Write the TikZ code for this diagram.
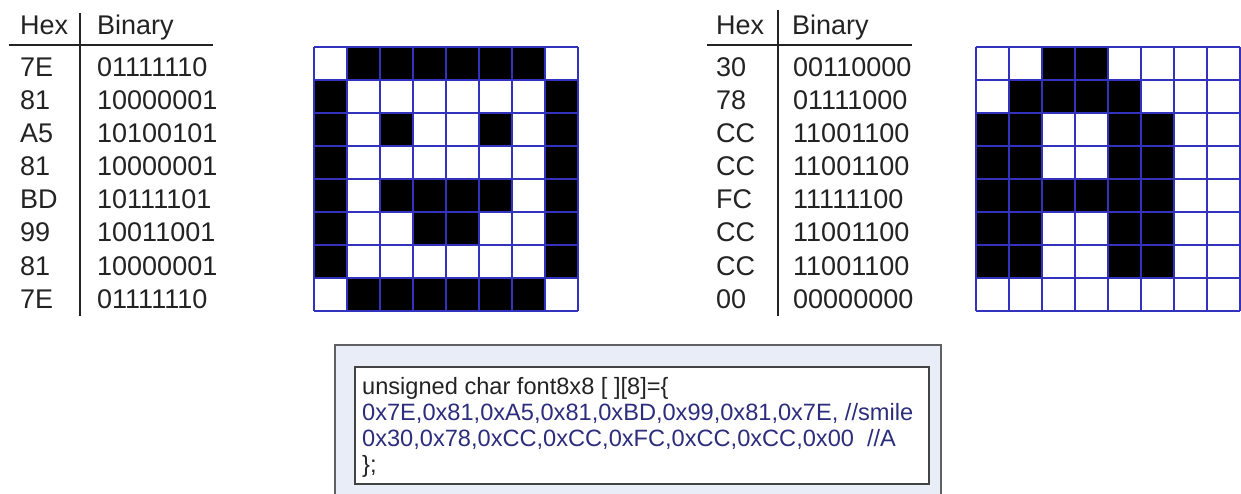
\documentclass[tikz,border=0pt]{standalone}
\usepackage{fontspec}
\setmainfont{Liberation Sans}
\definecolor{gridblue}{RGB}{50,50,190}
\definecolor{codeblue}{RGB}{45,45,125}
\definecolor{boxfill}{RGB}{233,237,247}
\definecolor{boxedge}{RGB}{95,95,100}
\definecolor{textgray}{RGB}{35,35,35}
\tikzset{
  tabtext/.style={anchor=base west, inner sep=0pt, text=textgray, font=\fontsize{27}{33}\selectfont},
  codetext/.style={anchor=base west, inner sep=0pt, font=\fontsize{23.6}{26}\selectfont},
  gridline/.style={draw=gridblue, line width=1.3pt},
  tabline/.style={draw=textgray, line width=2pt}
}

\begin{document}
\begin{tikzpicture}[x=1pt, y=-1pt]
            \useasboundingbox (0,0) rectangle (1241,494);

            % Bang trai: smile
            \node[tabtext] (lhex) at (20,35) {Hex};
            \node[tabtext] (lbin) at (97,35) {Binary};
            \draw[tabline] (9,45) -- (213,45);
            \draw[tabline] (80,13) -- (80,316);
            \foreach \hx/\bn [count=\i from 0] in {7E/01111110, 81/10000001, A5/10100101, 81/10000001, BD/10111101, 99/10011001, 81/10000001, 7E/01111110}{
                \node[tabtext] (lh\i) at (20,77+33*\i) {\hx};
                \node[tabtext] (lb\i) at (97,77+33*\i) {\bn};
            }

            % Luoi 8x8 trai
            \begin{scope}[shift={(314,47)}]
                \foreach \row [count=\r from 0] in {{0,1,1,1,1,1,1,0},{1,0,0,0,0,0,0,1},{1,0,1,0,0,1,0,1},{1,0,0,0,0,0,0,1},{1,0,1,1,1,1,0,1},{1,0,0,1,1,0,0,1},{1,0,0,0,0,0,0,1},{0,1,1,1,1,1,1,0}}{
                    \foreach \b [count=\c from 0] in \row {
                        \ifnum\b=1 \fill (33*\c,33*\r) rectangle ++(33,33); \fi
                    }
                }
                \foreach \k in {0,...,8}{
                    \draw[gridline] (33*\k,0) -- (33*\k,264);
                    \draw[gridline] (0,33*\k) -- (264,33*\k);
                }
            \end{scope}

            % Bang phai: chu A
            \node[tabtext] (rhex) at (716,35) {Hex};
            \node[tabtext] (rbin) at (792,35) {Binary};
            \draw[tabline] (707,45) -- (912,45);
            \draw[tabline] (778,10) -- (778,316);
            \foreach \hx/\bn [count=\i from 0] in {30/00110000, 78/01111000, CC/11001100, CC/11001100, FC/11111100, CC/11001100, CC/11001100, 00/00000000}{
                \node[tabtext] (rh\i) at (716,77+33*\i) {\hx};
                \node[tabtext] (rb\i) at (793,77+33*\i) {\bn};
            }

            % Luoi 8x8 phai
            \begin{scope}[shift={(976,47)}]
                \foreach \row [count=\r from 0] in {{0,0,1,1,0,0,0,0},{0,1,1,1,1,0,0,0},{1,1,0,0,1,1,0,0},{1,1,0,0,1,1,0,0},{1,1,1,1,1,1,0,0},{1,1,0,0,1,1,0,0},{1,1,0,0,1,1,0,0},{0,0,0,0,0,0,0,0}}{
                    \foreach \b [count=\c from 0] in \row {
                        \ifnum\b=1 \fill (33*\c,33*\r) rectangle ++(33,33); \fi
                    }
                }
                \foreach \k in {0,...,8}{
                    \draw[gridline] (33*\k,0) -- (33*\k,264);
                    \draw[gridline] (0,33*\k) -- (264,33*\k);
                }
            \end{scope}

            % Khung ma nguon
            \draw[draw=boxedge, fill=boxfill, line width=1.5pt] (335,345) rectangle (941,510);
            \node[draw=boxedge!70!black, fill=white, line width=1.5pt, anchor=north west,
                  minimum width=574pt, minimum height=117pt, inner sep=0pt] (codebox) at (354,366) {};
            \node[codetext, text=textgray] (c1) at (362,394) {unsigned char font8x8 [ ][8]=\{};
            \node[codetext, text=codeblue] (c2) at (362,420) {0x7E,0x81,0xA5,0x81,0xBD,0x99,0x81,0x7E, //smile};
            \node[codetext, text=codeblue] (c3) at (362,446) {0x30,0x78,0xCC,0xCC,0xFC,0xCC,0xCC,0x00\ \ //A};
            \node[codetext, text=textgray] (c4) at (362,472) {\};};
\end{tikzpicture}
\end{document}
